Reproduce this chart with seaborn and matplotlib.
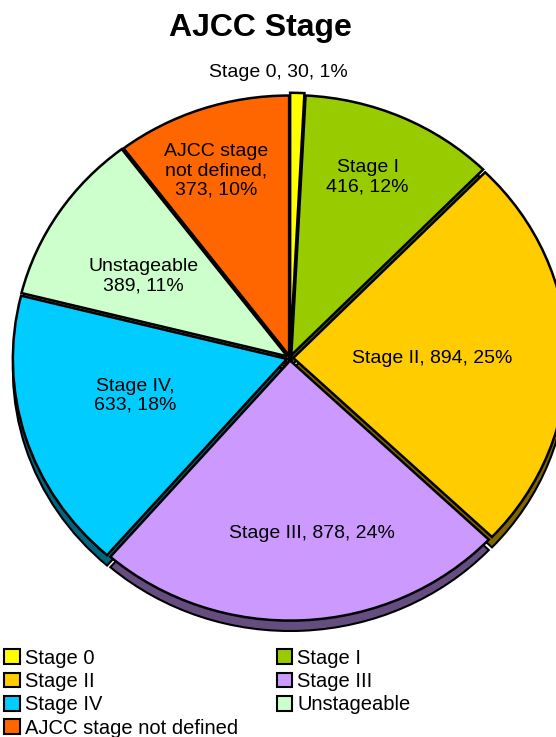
import numpy as np
import matplotlib
matplotlib.use('Agg')
import matplotlib.pyplot as plt
import matplotlib.colors as mcolors
from matplotlib.patches import Patch
import seaborn as sns

# Data
stages = ['Stage 0', 'Stage I', 'Stage II', 'Stage III', 'Stage IV',
          'Unstageable', 'AJCC stage not defined']
counts = [30, 416, 894, 878, 633, 389, 373]
slice_labels = ['Stage 0, 30, 1%', 'Stage I\n416, 12%', 'Stage II, 894, 25%',
                'Stage III, 878, 24%', 'Stage IV,\n633, 18%',
                'Unstageable\n389, 11%', 'AJCC stage\nnot defined,\n373, 10%']
colors = ['#FFFF00', '#99CC00', '#FFCC00', '#CC99FF', '#00CCFF', '#CCFFCC', '#FF6600']

sns.set_theme(style='white')
plt.rcParams['font.family'] = ['Liberation Sans', 'DejaVu Sans']
plt.rcParams['text.color'] = 'black'

fig = plt.figure(figsize=(5.56, 7.37), dpi=100)
ax = fig.add_axes([0, 0, 1, 1])

explode = [0.02, 0.012, 0.012, 0.01, 0.012, 0.012, 0.01]
dark = [tuple(np.array(mcolors.to_rgb(c)) * 0.5) for c in colors]

# side wall (3D depth) drawn as a darker pie shifted down
ax.pie(counts, colors=dark, startangle=90, counterclock=False, explode=explode,
       center=(0, -0.04), wedgeprops=dict(edgecolor='black', linewidth=1.5))
wedges, _ = ax.pie(counts, colors=colors, startangle=90, counterclock=False,
                   explode=explode,
                   wedgeprops=dict(edgecolor='black', linewidth=1.8))

# label placement distance (fraction of radius) and angle nudges
dists = [1.1, 0.75, 0.52, 0.68, 0.585, 0.62, 0.77]
nudge = [0, 1.5, -1.3, 4, -3, 3, 2]
for w, lab, d, n in zip(wedges, slice_labels, dists, nudge):
    mid = np.deg2rad((w.theta1 + w.theta2) / 2 + n)
    ax.text(d * np.cos(mid) + (-0.07 if d > 1 else 0), d * np.sin(mid), lab,
            ha='center', va='center', fontsize=14, color='black', linespacing=1.15)

# ellipse-like scaling: 274 px horizontally, 260 px vertically per unit radius
ax.set_aspect('auto')
ax.set_xlim(-290 / 274, (556 - 290) / 274)
ax.set_ylim(-379 / 260, (737 - 379) / 260)
ax.axis('off')

fig.text(0.468, 0.962, 'AJCC Stage', ha='center', va='center',
         fontsize=23, fontweight='bold', color='black')

handles = [Patch(facecolor=c, edgecolor='black', linewidth=1.5) for c in colors]
order = [0, 2, 4, 6, 1, 3, 5]
fig.legend([handles[i] for i in order], [stages[i] for i in order],
           loc='upper left', bbox_to_anchor=(0.008, 0.12), ncol=2,
           frameon=False, fontsize=14.5, handlelength=0.75, handleheight=0.75,
           handletextpad=0.25, labelspacing=0.22, columnspacing=1.95,
           borderpad=0, borderaxespad=0, labelcolor='black')

fig.savefig('out.png', dpi=100)
